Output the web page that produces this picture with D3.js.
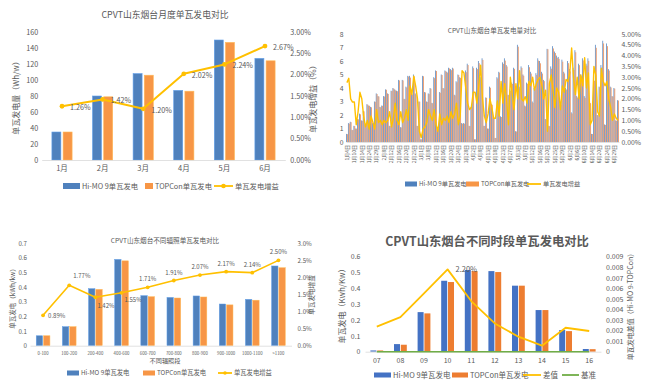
<!DOCTYPE html>
<html><head><meta charset="utf-8">
<script src="https://cdn.jsdelivr.net/npm/d3@7"></script>
<style>
body{margin:0;background:#fff}
svg{display:block}
text{font-family:'Microsoft YaHei','Noto Sans CJK SC','Noto Sans',sans-serif;fill:#595959}
</style>
</head><body><script>
// ---------- Chart 1: monthly ----------
const months = ["1月","2月","3月","4月","5月","6月"];
const monthHiMO = [35, 80, 108, 87, 150, 127];
const monthTOPCon = [35, 79, 106, 86, 147, 124];
const monthGain = [1.26, 1.42, 1.20, 2.02, 2.24, 2.67];
const monthYTicks = [0,20,40,60,80,100,120,140,160];
const monthGainTicks = [0,0.5,1,1.5,2,2.5,3];

// ---------- Chart 2: daily ----------
const dayTickLabels = ["1月4日","1月10日","1月14日","1月24日","1月29日","2月8日","2月12日","2月16日","2月20日","2月25日",
"3月1日","3月8日","3月12日","3月16日","3月20日","3月24日","3月28日","4月2日","4月8日","4月13日","4月18日","4月23日","4月27日",
"5月3日","5月7日","5月12日","5月16日","5月20日","5月25日","5月29日","6月2日","6月6日","6月10日","6月14日","6月20日","6月24日","6月29日"];
const dayHiMO = [
0.6,1.4,1.5,0.9,1.2,1.0,1.7,2.1,1.6,2.3,
1.3,2.8,2.7,2.6,1.4,3.0,3.6,3.4,2.6,2.7,
3.4,3.9,3.6,1.2,3.8,4.0,3.9,3.8,4.6,1.1,
4.6,3.2,4.1,4.9,4.9,3.6,5.0,3.6,1.2,3.0,
0.2,4.9,3.7,3.0,3.6,4.0,2.9,4.8,5.3,1.0,
3.7,5.0,4.0,5.3,5.2,5.5,5.4,5.5,3.5,4.5,
5.0,4.8,1.4,1.4,5.3,5.8,1.2,2.6,5.6,0.2,
5.5,6.0,4.8,6.2,1.2,3.3,1.0,4.1,2.8,1.8,
0.3,4.8,5.2,1.9,5.9,6.2,5.7,3.5,3.9,4.4,
5.5,0.8,7.2,4.1,5.6,5.0,2.7,4.4,5.7,5.2,
3.0,4.0,5.1,6.2,6.0,5.2,4.6,1.7,6.9,1.2,
5.6,7.1,6.7,6.4,6.3,2.8,6.1,5.2,4.0,6.0,
5.4,2.2,5.5,6.8,3.4,5.8,5.0,6.2,3.4,5.8,
6.2,2.9,0.6,4.7,7.2,2.0,4.1,5.7,7.5,1.3,
7.3,5.4,4.1,3.4,4.0,1.6,3.1];
const dayTOPCon = [
0.58,1.36,1.47,0.88,1.18,0.99,1.68,2.05,1.57,2.27,
1.29,2.77,2.68,2.57,1.39,2.98,3.55,3.37,2.57,2.68,
3.37,3.87,3.56,1.18,3.77,3.96,3.83,3.76,4.56,1.08,
4.56,3.17,4.04,4.85,4.77,3.52,4.85,3.51,1.18,2.99,
0.2,4.87,3.67,2.97,3.55,3.95,2.87,4.73,5.26,0.99,
3.65,4.96,3.96,5.25,5.14,5.45,5.32,5.44,3.45,4.42,
4.96,4.74,1.36,1.36,5.17,5.7,1.18,2.56,5.47,0.2,
5.4,5.84,4.63,6.08,1.19,3.27,0.99,4.02,2.76,1.78,
0.3,4.71,5.14,1.85,5.79,6.03,5.59,3.47,3.78,4.3,
5.42,0.78,7.06,3.97,5.49,4.91,2.64,4.32,5.54,5.07,
2.91,3.91,4.97,6.03,5.83,5.07,4.51,1.66,6.87,1.17,
5.43,6.93,6.59,6.24,6.16,2.76,5.95,5.08,3.89,5.84,
5.23,2.11,5.34,6.65,3.3,5.69,4.85,6.04,3.27,5.66,
6.01,2.88,0.59,4.54,6.98,1.97,4.05,5.51,7.3,1.27,
7.1,5.29,4.04,3.37,3.95,1.58,3.07];
const dayGain = [
2.75,2.95,2.0,1.85,1.85,0.8,1.4,2.3,2.0,1.2,
0.7,1.0,0.6,1.2,0.9,0.6,1.5,0.9,1.0,0.8,
1.0,0.9,1.0,1.4,0.7,1.1,1.8,1.0,0.8,1.4,
0.9,1.1,1.5,1.0,2.6,2.2,3.05,2.6,2.0,0.5,
0.2,0.6,0.7,0.9,1.5,1.2,1.0,1.5,0.8,0.5,
1.3,0.8,1.1,1.0,1.2,0.9,1.4,1.1,1.3,1.8,
0.8,1.2,3.3,3.2,2.5,1.8,1.5,1.6,2.3,2.3,
1.8,2.6,3.55,2.0,1.2,0.9,1.3,2.0,1.6,1.1,
1.1,1.9,1.2,2.8,1.8,2.7,1.9,0.8,3.0,2.2,
1.5,2.7,2.0,3.3,2.0,1.9,2.1,1.8,2.8,2.6,
3.0,2.4,2.7,2.9,3.0,2.6,2.0,2.4,0.5,2.7,
3.1,2.4,1.6,2.5,2.3,1.5,2.6,2.3,2.9,2.8,
3.2,4.35,3.0,2.2,3.0,2.0,3.1,2.6,3.9,2.5,
3.2,0.8,1.0,3.5,3.1,1.4,1.2,3.4,2.8,2.6,
2.8,2.0,1.6,1.0,1.3,1.1,1.0];
const dayYTicks = [0,1,2,3,4,5,6,7,8];
const dayGainTicks = [0,0.5,1,1.5,2,2.5,3,3.5,4,4.5,5];

// ---------- Chart 3: irradiance ----------
const irrBins = ["0-100","100-200","200-400","400-600","600-700","700-800","800-900","900-1000","1000-1100",">1100"];
const irrHiMO = [0.068, 0.13, 0.39, 0.59, 0.342, 0.33, 0.34, 0.285, 0.317, 0.545];
const irrTOPCon = [0.068, 0.13, 0.385, 0.58, 0.335, 0.326, 0.333, 0.279, 0.311, 0.533];
const irrGain = [0.89, 1.77, 1.42, 1.55, 1.71, 1.91, 2.07, 2.17, 2.14, 2.50];
const irrYTicks = [0,0.1,0.2,0.3,0.4,0.5,0.6,0.7];
const irrGainTicks = [0,0.5,1,1.5,2,2.5,3];

// ---------- Chart 4: hourly ----------
const hours = ["07","08","09","10","11","12","13","14","15","16"];
const hourHiMO = [0.008, 0.048, 0.25, 0.448, 0.516, 0.509, 0.417, 0.263, 0.137, 0.017];
const hourTOPCon = [0.008, 0.044, 0.242, 0.44, 0.509, 0.503, 0.417, 0.263, 0.13, 0.016];
const hourDiff = [0.00237, 0.00328, 0.00553, 0.0078, 0.0048, 0.00268, 0.00142, 0.00057, 0.00227, 0.00196];
const hourBase = [0,0,0,0,0,0,0,0,0,0];
const hourYTicks = [0,0.1,0.2,0.3,0.4,0.5,0.6];
const hourDiffTicks = [0,0.001,0.002,0.003,0.004,0.005,0.006,0.007,0.008,0.009];

// ---------- drawing ----------
const W = 658, H = 381;
const BLUE = "#4F81BD", ORANGE = "#F79646", GOLD = "#FFC000";
const svg = d3.select("body").append("svg").attr("width", W).attr("height", H);

function styleAxis(g, fs){
  g.select(".domain").remove();
  g.selectAll("text").style("font-size", fs + "px").attr("fill", "#595959");
}
function txt(g, x, y, s, fs, opt={}){
  const t = g.append("text").attr("x", x).attr("y", y).text(s)
    .style("font-size", fs + "px").attr("text-anchor", opt.anchor || "middle");
  if (opt.weight) t.style("font-weight", opt.weight);
  if (opt.fill) t.attr("fill", opt.fill);
  if (opt.rot) t.attr("transform", `rotate(${opt.rot},${x},${y})`);
  return t;
}
function legend(g, items, y, fs){
  items.forEach(it => {
    if (it.type === "rect") {
      g.append("rect").attr("x", it.x).attr("y", y - it.h/2).attr("width", it.w).attr("height", it.h).attr("fill", it.color);
    } else {
      g.append("line").attr("x1", it.x).attr("x2", it.x + it.w).attr("y1", y).attr("y2", y)
        .attr("stroke", it.color).attr("stroke-width", it.sw || 1.8);
      if (it.marker) g.append("circle").attr("cx", it.x + it.w/2).attr("cy", y).attr("r", it.marker).attr("fill", it.color);
    }
    txt(g, it.x + it.w + 2, y + fs*0.36, it.label, fs, {anchor: "start"});
  });
}

function combo(cfg){
  const g = svg.append("g");
  const x = d3.scaleBand().domain(d3.range(cfg.n)).range([cfg.x0, cfg.x1]);
  const y = d3.scaleLinear().domain([0, cfg.yMax]).range([cfg.yBot, cfg.yTop]);
  const y2 = d3.scaleLinear().domain([0, cfg.y2Max]).range([cfg.yBot, cfg.yTop]);
  const cx = i => x(i) + x.bandwidth()/2;
  // bars
  cfg.bars.forEach((b, k) => {
    g.append("g").selectAll("rect").data(b.values).join("rect")
      .attr("x", (d, i) => k === 0 ? cx(i) - cfg.gap/2 - cfg.barW : cx(i) + cfg.gap/2)
      .attr("y", d => y(d)).attr("width", cfg.barW).attr("height", d => cfg.yBot - y(d))
      .attr("fill", b.color)
      .attr("stroke", cfg.barStroke ? d3.color(b.color).brighter(0.6) : null)
      .attr("stroke-width", cfg.barStroke || 0);
  });
  // axes
  const ax = g.append("g").attr("transform", `translate(${cfg.x0},0)`)
    .call(d3.axisLeft(y).tickValues(cfg.yTicks).tickSize(0).tickPadding(cfg.lpad).tickFormat(cfg.yFmt));
  styleAxis(ax, cfg.tfs);
  const ax2 = g.append("g").attr("transform", `translate(${cfg.x1},0)`)
    .call(d3.axisRight(y2).tickValues(cfg.y2Ticks).tickSize(0).tickPadding(cfg.rpad).tickFormat(cfg.y2Fmt));
  styleAxis(ax2, cfg.tfs);
  const xa = g.append("g").attr("transform", `translate(0,${cfg.yBot})`)
    .call(d3.axisBottom(x).tickSize(0).tickSizeOuter(0).tickPadding(cfg.xpad)
      .tickValues(cfg.xTickValues || d3.range(cfg.n)).tickFormat(cfg.xFmt));
  xa.select(".domain").attr("stroke", "#D9D9D9").attr("stroke-width", 0.8);
  xa.selectAll("text").style("font-size", cfg.xfs + "px").attr("fill", "#595959");
  if (cfg.rotX) {
    xa.selectAll("text").attr("transform", "rotate(-90)").attr("text-anchor", "end")
      .attr("x", -cfg.xpad).attr("y", 0).attr("dy", "0.35em");
  }
  // lines
  cfg.lines.forEach(L => {
    const line = d3.line().x((d, i) => cx(i)).y(d => y2(d));
    g.append("path").datum(L.values).attr("d", line).attr("fill", "none")
      .attr("stroke", L.color).attr("stroke-width", L.sw).attr("stroke-linejoin", "round");
    if (L.marker) {
      g.append("g").selectAll("circle").data(L.values).join("circle")
        .attr("cx", (d, i) => cx(i)).attr("cy", d => y2(d)).attr("r", L.marker).attr("fill", L.color);
    }
    if (L.labels) {
      g.append("g").selectAll("text").data(L.values).join("text")
        .attr("x", (d, i) => cx(i) + L.labels[i][0]).attr("y", (d, i) => y2(d) + L.labels[i][1])
        .attr("text-anchor", (d, i) => L.labels[i][2])
        .style("font-size", L.lfs + "px").attr("fill", "#404040")
        .text((d, i) => L.labelText ? L.labelText(d, i) : d.toFixed(2) + "%");
    }
  });
  return g;
}

// Chart 1
const g1 = combo({
  n: months.length, x0: 41.7, x1: 285.3, yTop: 32, yBot: 160,
  yMax: 160, yTicks: monthYTicks, yFmt: d => d, y2Max: 3, y2Ticks: monthGainTicks, y2Fmt: d => d.toFixed(2) + "%",
  lpad: 3.5, rpad: 5, tfs: 7.2, xpad: 6, xfs: 7.5, xFmt: i => months[i],
  barW: 9, gap: 2.2, barStroke: 0.6,
  bars: [{values: monthHiMO, color: BLUE}, {values: monthTOPCon, color: ORANGE}],
  lines: [{values: monthGain, color: GOLD, sw: 2, marker: 2.4, lfs: 7.2,
    labels: monthGain.map(() => [8, 4, "start"])}]
});
txt(g1, 165, 18, "CPVT山东烟台月度单瓦发电对比", 8.8);
txt(g1, 19, 96, "单瓦发电量（Wh/w）", 8, {rot: -90});
txt(g1, 316, 97, "单瓦发电增益（%）", 8, {rot: -90});
legend(g1, [
  {type: "rect", x: 63, w: 17, h: 6, color: BLUE, label: "Hi-MO 9单瓦发电"},
  {type: "rect", x: 145, w: 8, h: 6, color: ORANGE, label: "TOPCon单瓦发电"},
  {type: "line", x: 214, w: 19, color: GOLD, marker: 2.3, label: "单瓦发电增益"}
], 186, 7.3);

// Chart 2
const g2 = combo({
  n: dayHiMO.length, x0: 346, x1: 619, yTop: 34, yBot: 142,
  yMax: 8, yTicks: dayYTicks, yFmt: d => d, y2Max: 5, y2Ticks: dayGainTicks, y2Fmt: d => d.toFixed(2) + "%",
  lpad: 2.5, rpad: 2.5, tfs: 6.8, xpad: 3, xfs: 5, rotX: true,
  xTickValues: d3.range(0, dayHiMO.length, 4), xFmt: i => dayTickLabels[i / 4],
  barW: 0.75, gap: 0.15,
  bars: [{values: dayHiMO, color: "#4F81BD"}, {values: dayTOPCon, color: "#E8844A"}],
  lines: [{values: dayGain, color: GOLD, sw: 1.4}]
});
txt(g2, 492, 33, "CPVT山东烟台单瓦发电量对比", 6.6);
legend(g2, [
  {type: "rect", x: 405, w: 12, h: 5, color: BLUE, label: "Hi-MO 9单瓦发电"},
  {type: "rect", x: 466, w: 13, h: 5, color: ORANGE, label: "TOPCon单瓦发电"},
  {type: "line", x: 527, w: 14, color: GOLD, label: "单瓦发电增益"}
], 184, 6.2);

// Chart 3
const irrLabelPos = [[5, 2.5, "start"], [4, -7, "start"], [2, 11, "start"], [3, 9, "start"], [0, -6, "middle"],
  [0, -6, "middle"], [0, -6, "middle"], [0, -6, "middle"], [0, -6, "middle"], [0, -6, "middle"]];
const g3 = combo({
  n: irrBins.length, x0: 30, x1: 291.5, yTop: 243.3, yBot: 345.7,
  yMax: 0.7, yTicks: irrYTicks, yFmt: d => d === 0 ? "0" : d.toFixed(1), y2Max: 3, y2Ticks: irrGainTicks, y2Fmt: d => d.toFixed(1) + "%",
  lpad: 3, rpad: 6, tfs: 6.2, xpad: 6, xfs: 4.3, xFmt: i => irrBins[i],
  barW: 6.4, gap: 0.9, barStroke: 0.5,
  bars: [{values: irrHiMO, color: BLUE}, {values: irrTOPCon, color: ORANGE}],
  lines: [{values: irrGain, color: GOLD, sw: 1.6, marker: 1.9, lfs: 6, labels: irrLabelPos}]
});
txt(g3, 165, 243, "CPVT山东烟台不同辐照单瓦发电对比", 6.6);
txt(g3, 15, 297, "单瓦发电（kWh/kw）", 6.5, {rot: -90});
txt(g3, 314, 295, "单瓦发电增益", 6.6, {rot: -90});
txt(g3, 165, 363, "不同辐照段", 6.2);
legend(g3, [
  {type: "rect", x: 67, w: 12, h: 5, color: BLUE, label: "Hi-MO 9单瓦发电"},
  {type: "rect", x: 143, w: 12, h: 5, color: ORANGE, label: "TOPCon单瓦发电"},
  {type: "line", x: 218, w: 14, color: GOLD, marker: 1.8, label: "单瓦发电增益"}
], 373, 6.3);

// Chart 4
const g4 = combo({
  n: hours.length, x0: 365, x1: 601, yTop: 256.7, yBot: 351.7,
  yMax: 0.6, yTicks: hourYTicks, yFmt: d => d === 0 ? "0" : d.toFixed(1), y2Max: 0.009, y2Ticks: hourDiffTicks, y2Fmt: d => d === 0 ? "0" : d.toFixed(3),
  lpad: 4.5, rpad: 5, tfs: 7, xpad: 6, xfs: 7, xFmt: i => hours[i],
  barW: 6, gap: 0.8,
  bars: [{values: hourHiMO, color: "#4472C4"}, {values: hourTOPCon, color: "#ED7D31"}],
  lines: [
    {values: hourBase, color: "#70AD47", sw: 1.4},
    {values: hourDiff, color: GOLD, sw: 1.8}
  ]
});
txt(g4, 455.5, 272, "2.20%", 7.5, {anchor: "start", fill: "#404040"});
txt(g4, 487, 245.5, "CPVT山东烟台不同时段单瓦发电对比", 12.3, {weight: "bold", fill: "#404040"});
txt(g4, 345, 304, "单瓦发电（Kwh/Kw）", 8, {rot: -90});
txt(g4, 633, 305, "单瓦发电差值（Hi-MO 9-TOPCon）", 7, {rot: -90});
legend(g4, [
  {type: "rect", x: 374, w: 17, h: 5, color: "#4472C4", label: "Hi-MO 9单瓦发电"},
  {type: "rect", x: 452, w: 16, h: 5, color: "#ED7D31", label: "TOPCon单瓦发电"},
  {type: "line", x: 523, w: 18, color: GOLD, label: "差值"},
  {type: "line", x: 562, w: 17, color: "#70AD47", label: "基准"}
], 375, 7.5);
</script></body></html>
